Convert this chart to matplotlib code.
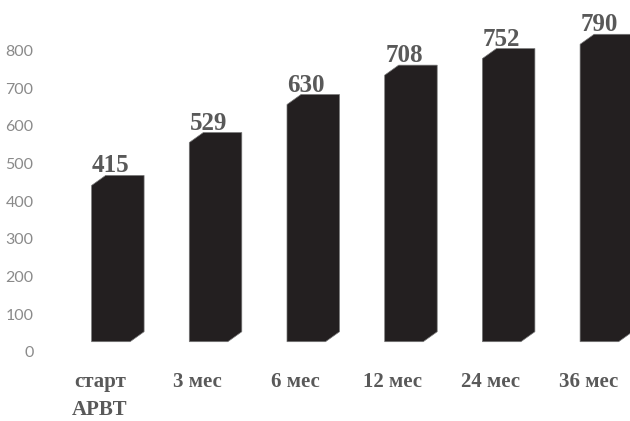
import matplotlib
matplotlib.use("Agg")
import matplotlib.pyplot as plt
from matplotlib.patches import Polygon
from matplotlib.transforms import offset_copy

# Data
categories = ["старт\nАРВТ", "3 мес", "6 мес", "12 мес", "24 мес", "36 мес"]
values = [415, 529, 630, 708, 752, 790]
yticks = [0, 100, 200, 300, 400, 500, 600, 700, 800]

W, H, DPI = 630, 421, 100
fig = plt.figure(figsize=(W / DPI, H / DPI), dpi=DPI)
ax_left, ax_bottom, ax_w, ax_h = 0.0984, 0.1646, 0.9016, 0.7154
ax = fig.add_axes([ax_left, ax_bottom, ax_w, ax_h])
xmin, xmax = -0.5, 5.3137
ax.set_xlim(xmin, xmax)
ax.set_ylim(0, 800)

# pixel -> data conversions for the pseudo-3D column geometry
px_per_x = ax_w * W / (xmax - xmin)
px_per_y = ax_h * H / 800.0
front_w = 38.5 / px_per_x
depth_x = 14.0 / px_per_x
depth_y = 10.0 / px_per_y
lift = 10.0 / px_per_y

bar_color = "#231f20"
text_gray = "#595959"
serif = "Liberation Serif"

for i, v in enumerate(values):
    x0, x1 = i - front_w / 2, i + front_w / 2
    b, t = lift, lift + v
    verts = [(x0, b), (x1, b), (x1 + depth_x, b + depth_y),
             (x1 + depth_x, t + depth_y), (x0 + depth_x, t + depth_y), (x0, t)]
    poly = Polygon(verts, closed=True, facecolor=bar_color,
                   edgecolor="#777777", linewidth=0.5, clip_on=False)
    ax.add_patch(poly)
    # value label above the column
    tr = offset_copy(ax.transData, fig=fig, x=0, y=3, units="dots")
    ax.text(i, t + depth_y, str(v), transform=tr, ha="center", va="baseline",
            fontsize=18, fontweight="bold", family=serif, color=text_gray,
            clip_on=False)

# category labels, one text per line
label_shift = 11.0 / px_per_x
for i, lab in enumerate(categories):
    for k, line in enumerate(lab.split("\n")):
        tr = offset_copy(ax.transData, fig=fig, x=0, y=-(34.8 + 28.5 * k),
                         units="dots")
        ax.text(i - label_shift, 0, line, transform=tr, ha="center",
                va="baseline", fontsize=15, fontweight="bold", family=serif,
                color=text_gray, clip_on=False)

ax.set_yticks(yticks)
ax.set_yticklabels([str(t) for t in yticks], family="Lato", fontsize=11.5,
                   color="#8a8a8a")
ax.set_xticks([])
ax.tick_params(axis="y", length=0, pad=20.5)
for s in ax.spines.values():
    s.set_visible(False)
ax.patch.set_alpha(0)

fig.savefig("out.png", dpi=DPI, facecolor="white")
